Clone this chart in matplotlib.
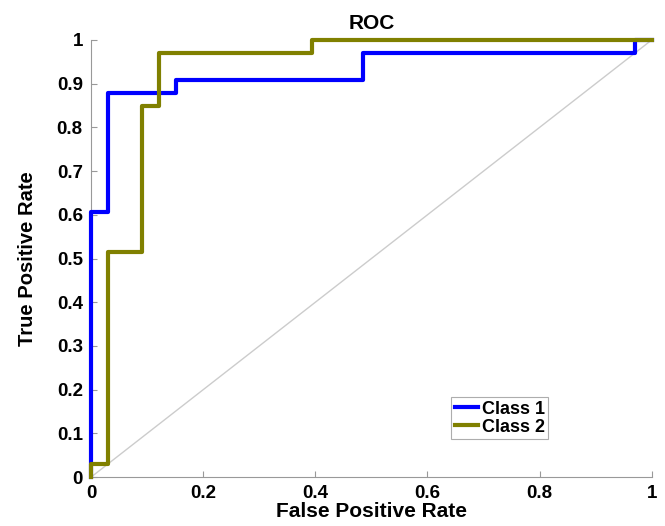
import numpy as np
import matplotlib
matplotlib.use("Agg")
import matplotlib.pyplot as plt

plt.rcParams["font.family"] = ["Liberation Sans", "DejaVu Sans"]
plt.rcParams["font.weight"] = "bold"

# ROC points (33 positives / 33 negatives)
fpr1 = [0, 0, 0.0303, 0.0303, 0.1515, 0.1515, 0.4848, 0.4848, 0.9697, 0.9697, 1.0]
tpr1 = [0, 0.6061, 0.6061, 0.8788, 0.8788, 0.9091, 0.9091, 0.9697, 0.9697, 1.0, 1.0]
fpr2 = [0, 0, 0.0303, 0.0303, 0.0909, 0.0909, 0.1212, 0.1212, 0.3939, 0.3939, 1.0]
tpr2 = [0, 0.0303, 0.0303, 0.5152, 0.5152, 0.8485, 0.8485, 0.9697, 0.9697, 1.0, 1.0]
labels = ["Class 1", "Class 2"]
xticks = [0, 0.2, 0.4, 0.6, 0.8, 1]
xticklabels = ["0", "0.2", "0.4", "0.6", "0.8", "1"]
yticks = [0, 0.1, 0.2, 0.3, 0.4, 0.5, 0.6, 0.7, 0.8, 0.9, 1]
yticklabels = ["0", "0.1", "0.2", "0.3", "0.4", "0.5", "0.6", "0.7", "0.8", "0.9", "1"]

fig = plt.figure(figsize=(6.65, 5.26), dpi=100)
ax = fig.add_axes([0.137, 0.093, 0.843, 0.831])

ax.plot([0, 1], [0, 1], color="#cccccc", lw=1)
ax.plot(fpr1, tpr1, color="#0000ff", lw=3, label=labels[0], clip_on=False, zorder=3)
ax.plot(fpr2, tpr2, color="#808000", lw=3, label=labels[1], clip_on=False, zorder=3)

ax.set_xlim(0, 1)
ax.set_ylim(0, 1)
ax.set_xticks(xticks)
ax.set_xticklabels(xticklabels)
ax.set_yticks(yticks)
ax.set_yticklabels(yticklabels)
ax.tick_params(direction="in", color="#999999", labelsize=13.5, length=4, pad=6)
for s in ["top", "right"]:
    ax.spines[s].set_visible(False)
for s in ["left", "bottom"]:
    ax.spines[s].set_color("#999999")

ax.set_xlabel("False Positive Rate", fontsize=15, fontweight="bold", labelpad=0)
ax.set_ylabel("True Positive Rate", fontsize=14.5, fontweight="bold", labelpad=14)
ax.set_title("ROC", fontsize=15, fontweight="bold", pad=8)

leg = ax.legend(loc="upper left", bbox_to_anchor=(0.642, 0.183),
                prop={"size": 13, "weight": "bold"},
                handlelength=1.3, handletextpad=0.2, borderpad=0.2,
                labelspacing=0.05, borderaxespad=0, fancybox=False)
leg.get_frame().set_edgecolor("#999999")
leg.get_frame().set_linewidth(0.8)

fig.savefig("out.png", dpi=100)
